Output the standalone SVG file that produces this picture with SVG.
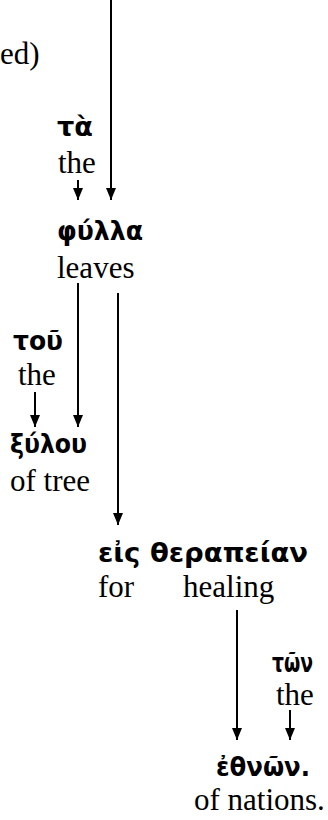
<svg xmlns="http://www.w3.org/2000/svg" width="328" height="820" viewBox="0 0 328 820">
<style>
.gk{font-family:"DejaVu Sans","Noto Sans",sans-serif;font-weight:bold;font-size:26px;fill:#000}
.en{font-family:"Liberation Serif","Times New Roman",serif;font-size:31px;fill:#000}
.ln{stroke:#000;stroke-width:2;fill:none;marker-end:url(#ah)}
</style>
<defs>
<marker id="ah" viewBox="0 0 12 10" refX="12" refY="5" markerWidth="12" markerHeight="10" markerUnits="userSpaceOnUse" orient="auto">
<path d="M0,0 L12,5 L0,10 Z" fill="#000"/>
</marker>
</defs>
<rect width="328" height="820" fill="#fff"/>
<g id="connectors">
<line class="ln" x1="111" y1="0" x2="111" y2="200"/>
<line class="ln" x1="78" y1="180" x2="78" y2="200"/>
<line class="ln" x1="78" y1="283" x2="78" y2="427"/>
<line class="ln" x1="118" y1="293" x2="118" y2="525"/>
<line class="ln" x1="35" y1="392" x2="35" y2="427"/>
<line class="ln" x1="237" y1="610" x2="237" y2="740"/>
<line class="ln" x1="290" y1="710" x2="290" y2="740"/>
</g>
<g id="n-prev"><text class="en" x="0" y="64">ed)</text></g>
<g id="n-ta"><text class="gk" x="57" y="136" textLength="36" lengthAdjust="spacingAndGlyphs">τὰ</text><text class="en" x="58" y="173">the</text></g>
<g id="n-fylla"><text class="gk" x="57" y="240" textLength="86" lengthAdjust="spacingAndGlyphs">φύλλα</text><text class="en" x="57" y="278">leaves</text></g>
<g id="n-tou"><text class="gk" x="13" y="350" textLength="50" lengthAdjust="spacingAndGlyphs">τοῦ</text><text class="en" x="18" y="385">the</text></g>
<g id="n-xylou"><text class="gk" x="10" y="453" textLength="77" lengthAdjust="spacingAndGlyphs">ξύλου</text><text class="en" x="10" y="491">of tree</text></g>
<g id="n-eis"><text class="gk" x="98" y="562" textLength="210" lengthAdjust="spacingAndGlyphs">εἰς θεραπείαν</text><text class="en" y="597"><tspan x="98">for</tspan><tspan x="183">healing</tspan></text></g>
<g id="n-ton"><text class="gk" x="272" y="672" textLength="41" lengthAdjust="spacingAndGlyphs">τῶν</text><text class="en" x="276" y="705">the</text></g>
<g id="n-ethnon"><text class="gk" x="216" y="776" textLength="94" lengthAdjust="spacingAndGlyphs">ἐθνῶν.</text><text class="en" x="194" y="810">of nations.</text></g>
</svg>
